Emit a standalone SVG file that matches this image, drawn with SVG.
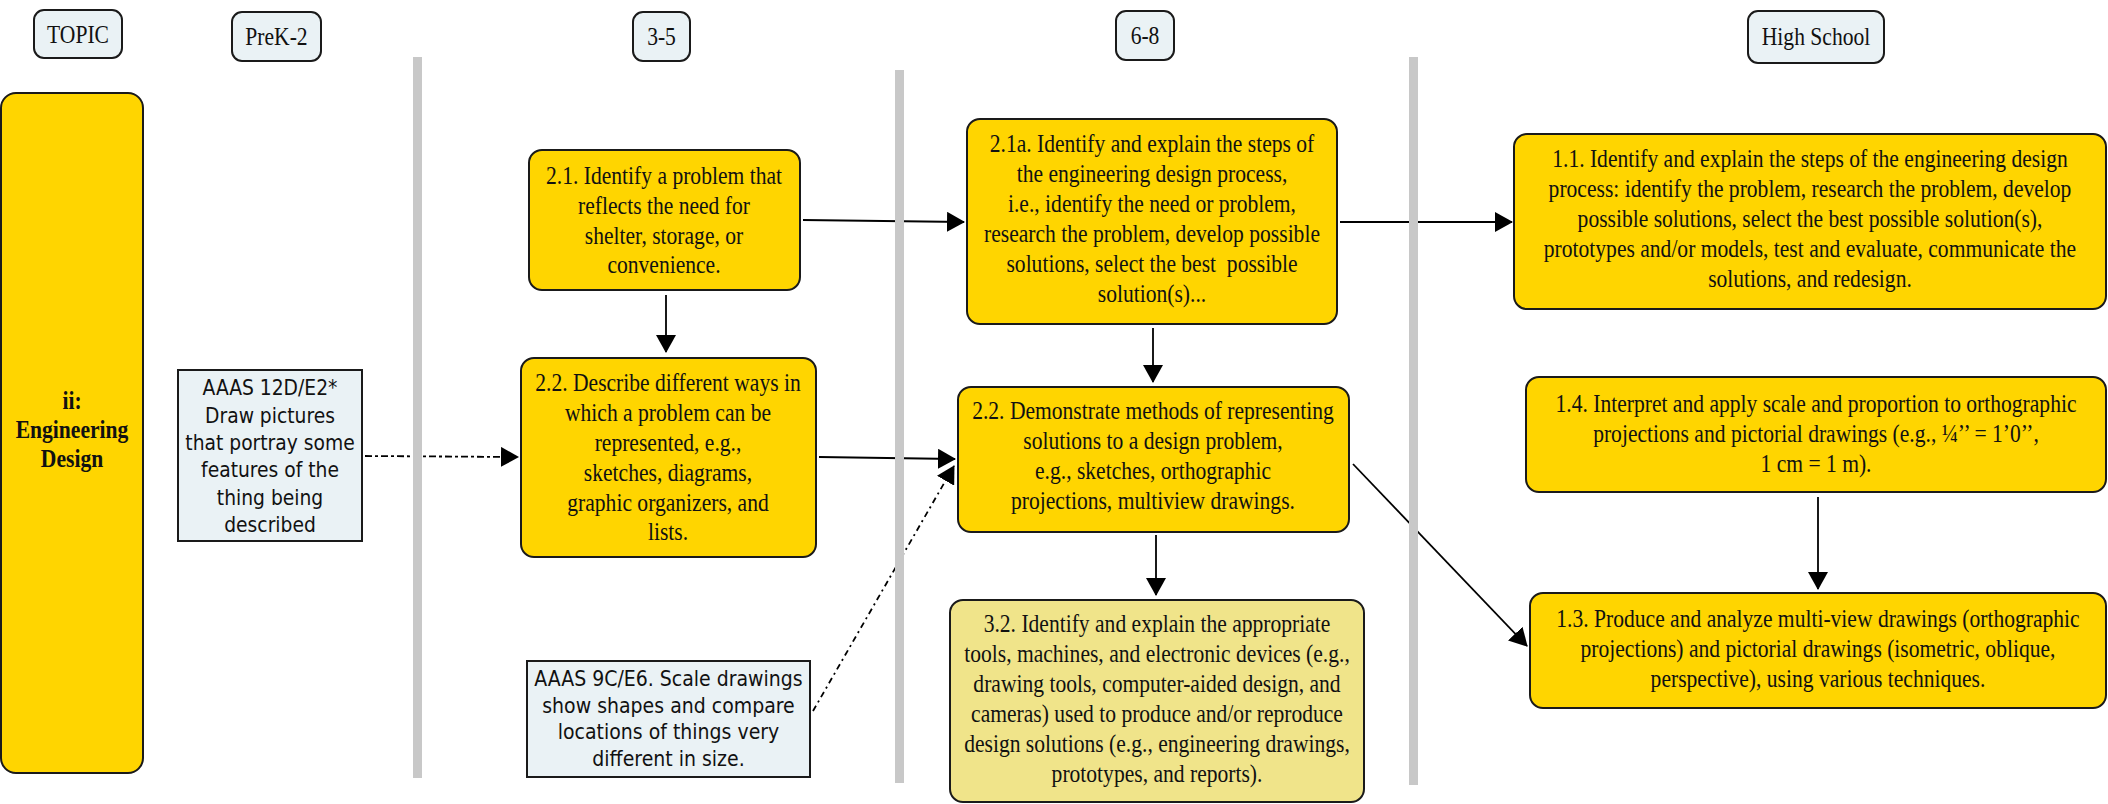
<svg xmlns="http://www.w3.org/2000/svg" width="2108" height="804" viewBox="0 0 2108 804">
<style>
.hdr{fill:#EAF2F5;stroke:#1a1a1a;stroke-width:2}
.y{fill:#FFD500;stroke:#1a1a1a;stroke-width:2}
.k{fill:#F0E48A;stroke:#1a1a1a;stroke-width:2}
.aaas{fill:#EAF2F5;stroke:#1a1a1a;stroke-width:2}
.sep{fill:#C8C8C8}
.t{font-family:"Liberation Serif","Times New Roman",serif;font-size:26px;fill:#111;text-anchor:middle}
.b{font-weight:bold}
.s{font-family:"DejaVu Sans",Verdana,sans-serif;font-size:21.5px;fill:#111;text-anchor:middle}
.c{fill:none;stroke:#000;stroke-width:1.8}
.dd{stroke-dasharray:7 3 3 3}
.d2{stroke-dasharray:6 4 2 4}
</style>
<defs>
<marker id="ah" viewBox="0 0 18 20" refX="17" refY="10" markerWidth="18" markerHeight="20" markerUnits="userSpaceOnUse" orient="auto">
<path d="M0,0 L18,10 L0,20 z" fill="#000"/>
</marker>
</defs>

<g id="hdr-topic">
<rect class="hdr" x="34" y="10" width="88" height="48" rx="10"/>
<text class="t" transform="translate(78 0) scale(0.83 1)" x="0" y="43">TOPIC</text>
</g>
<g id="hdr-prek2">
<rect class="hdr" x="232" y="12" width="89" height="49" rx="10"/>
<text class="t" transform="translate(276.5 0) scale(0.83 1)" x="0" y="45">PreK-2</text>
</g>
<g id="hdr-35">
<rect class="hdr" x="633" y="12" width="57" height="49" rx="10"/>
<text class="t" transform="translate(661.5 0) scale(0.83 1)" x="0" y="45">3-5</text>
</g>
<g id="hdr-68">
<rect class="hdr" x="1116" y="11" width="58" height="49" rx="10"/>
<text class="t" transform="translate(1145 0) scale(0.83 1)" x="0" y="44">6-8</text>
</g>
<g id="hdr-hs">
<rect class="hdr" x="1748" y="11" width="136" height="52" rx="10"/>
<text class="t" transform="translate(1816 0) scale(0.83 1)" x="0" y="45">High School</text>
</g>

<g id="topic">
<rect class="y" x="1" y="93" width="142" height="680" rx="15"/>
<text class="t b" transform="translate(72 0) scale(0.83 1)"><tspan x="0" y="409">ii:</tspan><tspan x="0" y="438">Engineering</tspan><tspan x="0" y="467">Design</tspan></text>
</g>

<g id="aaas12d">
<rect class="aaas" x="178" y="370" width="184" height="171"/>
<text class="s" transform="translate(270 0) scale(0.87 1)"><tspan x="0" y="395">AAAS 12D/E2*</tspan><tspan x="0" y="423">Draw pictures</tspan><tspan x="0" y="450">that portray some</tspan><tspan x="0" y="477">features of the</tspan><tspan x="0" y="505">thing being</tspan><tspan x="0" y="532">described</tspan></text>
</g>

<g id="n35-21">
<rect class="y" x="529" y="150" width="271" height="140" rx="13"/>
<text class="t" transform="translate(664 0) scale(0.83 1)"><tspan x="0" y="184">2.1. Identify a problem that</tspan><tspan x="0" y="214">reflects the need for</tspan><tspan x="0" y="244">shelter, storage, or</tspan><tspan x="0" y="273">convenience.</tspan></text>
</g>

<g id="n35-22">
<rect class="y" x="521" y="358" width="295" height="199" rx="13"/>
<text class="t" transform="translate(668 0) scale(0.83 1)"><tspan x="0" y="391">2.2. Describe different ways in</tspan><tspan x="0" y="421">which a problem can be</tspan><tspan x="0" y="451">represented, e.g.,</tspan><tspan x="0" y="481">sketches, diagrams,</tspan><tspan x="0" y="511">graphic organizers, and</tspan><tspan x="0" y="540">lists.</tspan></text>
</g>

<g id="aaas9c">
<rect class="aaas" x="527" y="661" width="283" height="116"/>
<text class="s" transform="translate(668.5 0) scale(0.88 1)"><tspan x="0" y="686">AAAS 9C/E6. Scale drawings</tspan><tspan x="0" y="713">show shapes and compare</tspan><tspan x="0" y="739">locations of things very</tspan><tspan x="0" y="766">different in size.</tspan></text>
</g>

<g id="n68-21a">
<rect class="y" x="967" y="119" width="370" height="205" rx="13"/>
<text class="t" transform="translate(1152 0) scale(0.83 1)"><tspan x="0" y="152">2.1a. Identify and explain the steps of</tspan><tspan x="0" y="182">the engineering design process,</tspan><tspan x="0" y="212">i.e., identify the need or problem,</tspan><tspan x="0" y="242">research the problem, develop possible</tspan><tspan x="0" y="272">solutions, select the best&#160; possible</tspan><tspan x="0" y="302">solution(s)...</tspan></text>
</g>

<g id="n68-22">
<rect class="y" x="958" y="387" width="391" height="145" rx="13"/>
<text class="t" transform="translate(1153 0) scale(0.83 1)"><tspan x="0" y="419">2.2. Demonstrate methods of representing</tspan><tspan x="0" y="449">solutions to a design problem,</tspan><tspan x="0" y="479">e.g., sketches, orthographic</tspan><tspan x="0" y="509">projections, multiview drawings.</tspan></text>
</g>

<g id="n68-32">
<rect class="k" x="950" y="600" width="414" height="202" rx="13"/>
<text class="t" transform="translate(1157 0) scale(0.83 1)"><tspan x="0" y="632">3.2. Identify and explain the appropriate</tspan><tspan x="0" y="662">tools, machines, and electronic devices (e.g.,</tspan><tspan x="0" y="692">drawing tools, computer-aided design, and</tspan><tspan x="0" y="722">cameras) used to produce and/or reproduce</tspan><tspan x="0" y="752">design solutions (e.g., engineering drawings,</tspan><tspan x="0" y="782">prototypes, and reports).</tspan></text>
</g>

<g id="hs-11">
<rect class="y" x="1514" y="134" width="592" height="175" rx="13"/>
<text class="t" transform="translate(1810 0) scale(0.83 1)"><tspan x="0" y="167">1.1. Identify and explain the steps of the engineering design</tspan><tspan x="0" y="197">process: identify the problem, research the problem, develop</tspan><tspan x="0" y="227">possible solutions, select the best possible solution(s),</tspan><tspan x="0" y="257">prototypes and/or models, test and evaluate, communicate the</tspan><tspan x="0" y="287">solutions, and redesign.</tspan></text>
</g>

<g id="hs-14">
<rect class="y" x="1526" y="377" width="580" height="115" rx="13"/>
<text class="t" transform="translate(1816 0) scale(0.83 1)"><tspan x="0" y="412">1.4. Interpret and apply scale and proportion to orthographic</tspan><tspan x="0" y="442">projections and pictorial drawings (e.g., ¼’’ = 1’0’’,</tspan><tspan x="0" y="472">1 cm = 1 m).</tspan></text>
</g>

<g id="hs-13">
<rect class="y" x="1530" y="593" width="576" height="115" rx="13"/>
<text class="t" transform="translate(1818 0) scale(0.83 1)"><tspan x="0" y="627">1.3. Produce and analyze multi-view drawings (orthographic</tspan><tspan x="0" y="657">projections) and pictorial drawings (isometric, oblique,</tspan><tspan x="0" y="687">perspective), using various techniques.</tspan></text>
</g>

<g id="connectors">
<line class="c" x1="666" y1="295" x2="666" y2="352" marker-end="url(#ah)"/>
<line class="c dd" x1="365" y1="456" x2="518" y2="457" marker-end="url(#ah)"/>
<line class="c" x1="803" y1="220" x2="964" y2="222" marker-end="url(#ah)"/>
<line class="c" x1="819" y1="457" x2="955" y2="459" marker-end="url(#ah)"/>
<line class="c d2" x1="813" y1="711" x2="954" y2="466" marker-end="url(#ah)"/>
<line class="c" x1="1153" y1="328" x2="1153" y2="382" marker-end="url(#ah)"/>
<line class="c" x1="1156" y1="535" x2="1156" y2="595" marker-end="url(#ah)"/>
<line class="c" x1="1340" y1="222" x2="1512" y2="222" marker-end="url(#ah)"/>
<line class="c" x1="1353" y1="464" x2="1527" y2="646" marker-end="url(#ah)"/>
<line class="c" x1="1818" y1="497" x2="1818" y2="589" marker-end="url(#ah)"/>
</g>

<g id="separators">
<rect class="sep" x="413" y="57" width="9" height="721"/>
<rect class="sep" x="895" y="70" width="9" height="713"/>
<rect class="sep" x="1409" y="57" width="9" height="728"/>
</g>
</svg>
